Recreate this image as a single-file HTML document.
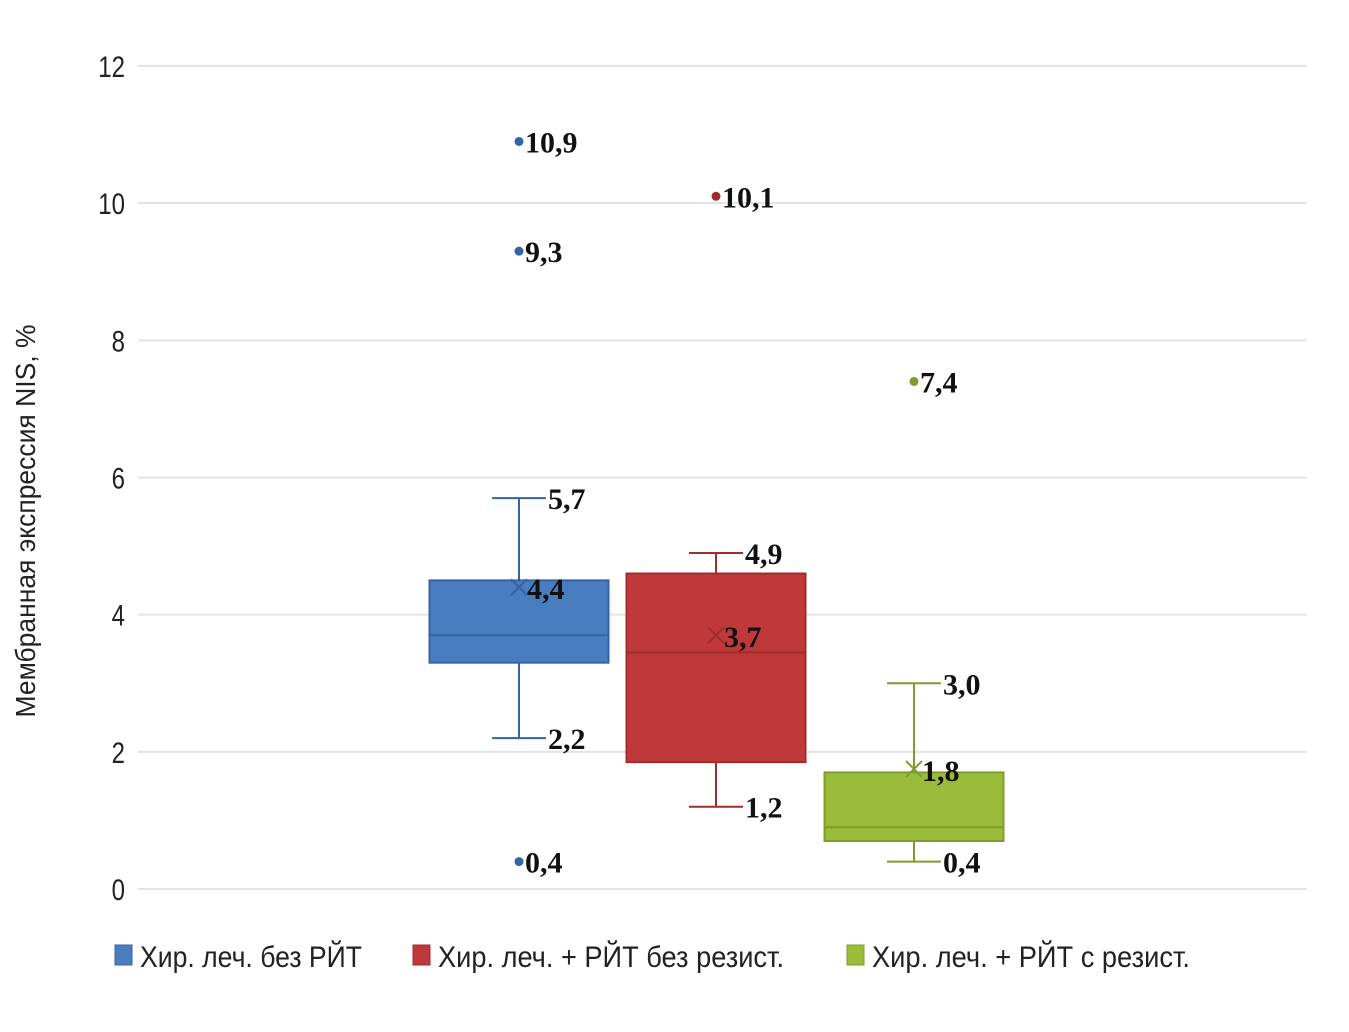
<!DOCTYPE html>
<html><head><meta charset="utf-8">
<style>
body{margin:0;background:#fff;}
svg text{font-family:"Liberation Sans Narrow","Liberation Sans","Noto Sans CJK SC",sans-serif;}
.lbl{font-family:"Liberation Serif",serif !important;font-weight:bold;font-size:30px;fill:#111;}
</style></head>
<body>
<svg id="chart" width="1349" height="1027" xmlns="http://www.w3.org/2000/svg"></svg>
<script>
const categories = ["Хир. леч. без РЙТ", "Хир. леч. + РЙТ без резист.", "Хир. леч. + РЙТ с резист."];
const q1 = [3.3, 1.85, 0.7];
const q3 = [4.5, 4.6, 1.7];
const medians = [3.7, 3.45, 0.9];
const means = [4.4, 3.7, 1.75];
const meanLabels = ["4,4", "3,7", "1,8"];
const whiskLow = [2.2, 1.2, 0.4];
const whiskHigh = [5.7, 4.9, 3.0];
const outliers = [[10.9, 9.3, 0.4], [10.1], [7.4]];
const yTicks = [0, 2, 4, 6, 8, 10, 12];
const colors = ["#4a7cc0", "#c0393a", "#9bbb3b"];
const strokes = ["#3563a3", "#a02c2c", "#7f9c2c"];

const svg = document.getElementById('chart');
const NS = 'http://www.w3.org/2000/svg';
const x0 = 138, x1 = 1307, yTop = 66, yBot = 889;
const y = v => yBot - (v / 12) * (yBot - yTop);
const centers = [519, 716, 914];
const bx = i => centers[i];
const boxW = 179, capW = 54;
const fmt = v => v.toFixed(1).replace('.', ',');
function mk(tag, attrs, parent) {
  const e = document.createElementNS(NS, tag);
  for (const k in attrs) e.setAttribute(k, attrs[k]);
  (parent || svg).appendChild(e);
  return e;
}
yTicks.forEach(t => {
  const g = mk('line', {x1: x0, x2: x1, y1: y(t), y2: y(t), stroke: '#e3e3e3', 'stroke-width': 2});
  
  
  const tx = mk('text', {transform: `translate(125,${y(t) + 11}) scale(0.8,1)`, 'text-anchor': 'end', 'font-size': 30, fill: '#222'});
  tx.textContent = t;
  
  
});
const yt = mk('text', {transform: 'translate(35,521) rotate(-90)', 'text-anchor': 'middle', 'font-size': 28, fill: '#222', textLength: 393, lengthAdjust: 'spacingAndGlyphs'});
yt.textContent = 'Мембранная экспрессия NIS, %';



categories.forEach((c, i) => {
  const cx = bx(i);
  const g = mk('g', {});
  
  
  mk('line', {x1: cx, x2: cx, y1: y(whiskHigh[i]), y2: y(q3[i]), stroke: strokes[i], 'stroke-width': 2}, g);
  mk('line', {x1: cx, x2: cx, y1: y(q1[i]), y2: y(whiskLow[i]), stroke: strokes[i], 'stroke-width': 2}, g);
  mk('line', {x1: cx - capW / 2, x2: cx + capW / 2, y1: y(whiskHigh[i]), y2: y(whiskHigh[i]), stroke: strokes[i], 'stroke-width': 2}, g);
  mk('line', {x1: cx - capW / 2, x2: cx + capW / 2, y1: y(whiskLow[i]), y2: y(whiskLow[i]), stroke: strokes[i], 'stroke-width': 2}, g);
  const r = mk('rect', {x: cx - boxW / 2, y: y(q3[i]), width: boxW, height: y(q1[i]) - y(q3[i]), fill: colors[i], stroke: strokes[i], 'stroke-width': 2}, g);
  
  
  mk('line', {x1: cx - boxW / 2, x2: cx + boxW / 2, y1: y(medians[i]), y2: y(medians[i]), stroke: strokes[i], 'stroke-width': 2}, g);
  const my = y(means[i]);
  mk('path', {d: `M${cx-8},${my-8}L${cx+8},${my+8}M${cx-8},${my+8}L${cx+8},${my-8}`, stroke: strokes[i], 'stroke-width': 2}, g);
  const ml = mk('text', {x: cx + 8, y: my + 12, class: 'lbl'}, g);
  ml.textContent = meanLabels[i];
  
  
  [whiskHigh[i], whiskLow[i]].forEach(v => {
    const t = mk('text', {x: cx + capW / 2 + 2, y: y(v) + 11, class: 'lbl'}, g);
    t.textContent = fmt(v);
    
    
  });
  outliers[i].forEach(v => {
    const p = mk('circle', {cx: cx, cy: y(v), r: 4.5, fill: strokes[i]}, g);
    
    
    const t = mk('text', {x: cx + 6, y: y(v) + 11, class: 'lbl'}, g);
    t.textContent = fmt(v);
    
    
  });
});

const legX = [115, 413, 847], legW = [222, 346, 318];
categories.forEach((c, i) => {
  const g = mk('g', {});
  
  
  mk('rect', {x: legX[i], y: 945, width: 17, height: 20, fill: colors[i], stroke: strokes[i], 'stroke-width': 1}, g);
  const t = mk('text', {x: legX[i] + 25, y: 967, 'font-size': 30, fill: '#222', textLength: legW[i], lengthAdjust: 'spacingAndGlyphs'}, g);
  t.textContent = c;
});
</script>
</body></html>
